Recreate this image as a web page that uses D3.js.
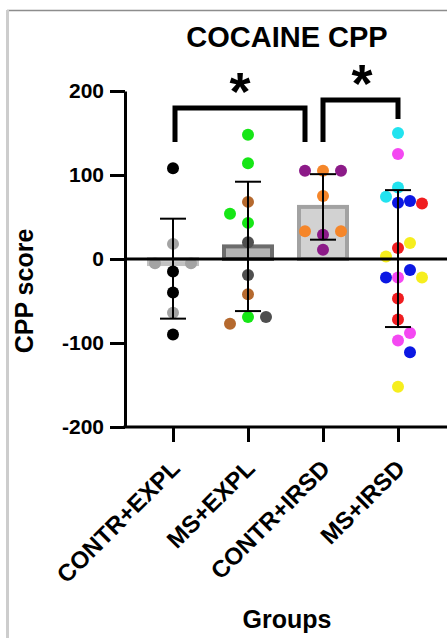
<!DOCTYPE html>
<html>
<head>
<meta charset="utf-8">
<script src="https://cdn.jsdelivr.net/npm/d3@7"></script>
<style>
  html, body { margin: 0; padding: 0; background: #fff; }
  svg { display: block; font-family: Arial, "Liberation Sans", Helvetica, sans-serif; }
</style>
</head>
<body>
<svg width="447" height="638"></svg>
<script>
// groups and summary values (mean, SD range)
var groups = ["CONTR+EXPL", "MS+EXPL", "CONTR+IRSD", "MS+IRSD"];
var means = [-6, 15, 62, 0];
var sdLow = [-71, -62, 23, -81];
var sdHigh = [48, 92, 101, 82];
var yTicks = [-200, -100, 0, 100, 200];

// individual animals, in placement order; subgroup keys decide the colour
var contrExplValues = [108, 18, -15, -5, -5, -40, -64, -90];
var contrExplKeys = ["c1", "c2", "c1", "c2", "c2", "c1", "c2", "c1"];
var msExplValues = [148, 114, 68, 43, 54, 20, -19, -42, -69, -77, -69];
var msExplKeys = ["m1", "m1", "m2", "m1", "m1", "m3", "m3", "m2", "m1", "m2", "m3"];
var contrIrsdValues = [105, 105, 105, 75, 29, 33, 33, 11];
var contrIrsdKeys = ["i2", "i1", "i1", "i2", "i1", "i2", "i2", "i1"];
var msIrsdValues = [150, 125, 85, 67, 69, 74, 66, 13, 19, 3, -22, -13, -22, -22, -47, -72, -88, -97, -111, -152];
var msIrsdKeys = ["s1", "s2", "s1", "s3", "s3", "s1", "s4", "s4", "s5", "s5", "s2", "s3", "s3", "s5", "s4", "s4", "s2", "s2", "s3", "s5"];

var subjectKeys = ["c1", "c2", "m1", "m2", "m3", "i1", "i2", "s1", "s2", "s3", "s4", "s5"];
var subjectColors = ["#000000", "#a3a3a3", "#16e616", "#b5692e", "#4f4f4f", "#8c1a88", "#f5862a",
                     "#22e3ef", "#f448f2", "#0b17e3", "#f01d20", "#f6ee1e"];

var svg = d3.select("svg");

const x = d3.scalePoint().domain(groups).range([173, 398]);
const y = d3.scaleLinear().domain([-200, 200]).range([427, 91]);
var color = d3.scaleOrdinal().domain(subjectKeys).range(subjectColors);

var r = 6;
var barW = 48;
var capW = 26;
var barStyle = [
  {fill: "#cbcbcb", stroke: "#c2c2c2"},
  {fill: "#b3b3b3", stroke: "#6c6c6c"},
  {fill: "#d2d2d2", stroke: "#a2a2a2"},
  {fill: "#d2d2d2", stroke: "#a2a2a2"}
];

// frame of the original screenshot
svg.append("line").attr("x1", 7).attr("x2", 447).attr("y1", 10.5).attr("y2", 10.5)
  .style("stroke", "#8d8d8d").style("stroke-width", 1.5);
svg.append("line").attr("x1", 7.5).attr("x2", 7.5).attr("y1", 10).attr("y2", 638)
  .style("stroke", "#cdcdcd").style("stroke-width", 3);

// bars (a zero mean draws nothing)
svg.append("g").selectAll("rect")
  .data(groups.filter((d, i) => means[i] !== 0))
  .enter().append("rect")
  .attr("x", (d) => x(d) - barW / 2)
  .attr("width", barW)
  .attr("y", (d) => Math.min(y(0), y(means[groups.indexOf(d)])))
  .attr("height", (d) => Math.abs(y(0) - y(means[groups.indexOf(d)])))
  .style("fill", (d) => barStyle[groups.indexOf(d)].fill)
  .style("stroke", (d) => barStyle[groups.indexOf(d)].stroke)
  .style("stroke-width", 4);

// simple dodge: each point takes the first free horizontal slot next to the group centre
function dodge(values, keys, group, sep, rightFirst) {
  var cx = x(group);
  var placed = [];
  var cand = [0];
  for (var k = 1; k <= 10; k++) {
    if (rightFirst) cand.push(k * 6, -k * 6);
    else cand.push(-k * 6, k * 6);
  }
  return values.map(function(v, i) {
    var py = y(v);
    var off = cand.find(o => placed.every(p => Math.abs(p.y - py) >= 15 || Math.abs(p.x - o) >= sep));
    placed.push({x: off, y: py});
    return {cx: cx + off, cy: py, key: keys[i]};
  });
}

var points = [].concat(
  dodge(contrExplValues, contrExplKeys, groups[0], 18, false),
  dodge(msExplValues, msExplKeys, groups[1], 18, false),
  dodge(contrIrsdValues, contrIrsdKeys, groups[2], 18, false),
  dodge(msIrsdValues, msIrsdKeys, groups[3], 12, true)
);

svg.append("g").selectAll("circle")
  .data(points)
  .enter().append("circle")
  .attr("cx", (d) => d.cx)
  .attr("cy", (d) => d.cy)
  .attr("r", r)
  .attr("fill", (d) => color(d.key));

// zero line
svg.append("line")
  .attr("x1", 125).attr("x2", 447)
  .attr("y1", y(0)).attr("y2", y(0))
  .style("stroke", "#000").style("stroke-width", 3);

// error bars (SD)
const eb = svg.append("g").style("stroke", "#000").style("stroke-width", 2);
eb.selectAll(".v").data(groups).enter().append("line")
  .attr("x1", (d) => x(d)).attr("x2", (d) => x(d))
  .attr("y1", (d, i) => y(sdHigh[i])).attr("y2", (d, i) => y(sdLow[i]));
eb.selectAll(".hi").data(groups).enter().append("line")
  .attr("x1", (d) => x(d) - capW / 2).attr("x2", (d) => x(d) + capW / 2)
  .attr("y1", (d, i) => y(sdHigh[i])).attr("y2", (d, i) => y(sdHigh[i]));
eb.selectAll(".lo").data(groups).enter().append("line")
  .attr("x1", (d) => x(d) - capW / 2).attr("x2", (d) => x(d) + capW / 2)
  .attr("y1", (d, i) => y(sdLow[i])).attr("y2", (d, i) => y(sdLow[i]));

// axes
const yAxis = svg.append("g")
  .attr("transform", "translate(125,0)")
  .call(d3.axisLeft(y).tickValues(yTicks).tickFormat((d) => String(d))
    .tickSize(15).tickSizeOuter(0).tickPadding(6));
yAxis.select(".domain").style("stroke-width", 3);
yAxis.selectAll(".tick line").style("stroke-width", 3);
yAxis.selectAll("text")
  .style("font-size", "21px").style("font-weight", "bold").attr("fill", "#000");

const xAxis = svg.append("g")
  .attr("transform", "translate(0,427)")
  .call(d3.axisBottom(x).tickSize(15).tickSizeOuter(0));
xAxis.select(".domain").remove();
xAxis.selectAll(".tick line").style("stroke-width", 3);
xAxis.selectAll("text")
  .attr("y", 0).attr("dy", "0.35em")
  .attr("transform", "translate(2,37) rotate(-45)")
  .style("text-anchor", "end")
  .style("font-size", "24px").style("font-weight", "bold").attr("fill", "#000");
svg.append("line")
  .attr("x1", 123.5).attr("x2", 447)
  .attr("y1", 427).attr("y2", 427)
  .style("stroke", "#000").style("stroke-width", 3);

// significance brackets
function bracket(xa, xb, top, ya, yb) {
  svg.append("path")
    .attr("d", "M" + xa + "," + ya + "V" + top + "H" + xb + "V" + yb)
    .style("fill", "none").style("stroke", "#000").style("stroke-width", 5);
}
bracket(x(groups[0]) + 2, x(groups[2]) - 18, 108, 142, 142);
bracket(x(groups[2]), x(groups[3]), 100, 142, 119);

svg.append("text").attr("x", 240).attr("y", 110)
  .attr("text-anchor", "middle")
  .style("font-size", "54px").style("font-weight", "bold").text("*");
svg.append("text").attr("x", 362).attr("y", 102)
  .attr("text-anchor", "middle")
  .style("font-size", "54px").style("font-weight", "bold").text("*");

// titles
svg.append("text").attr("x", 287).attr("y", 47)
  .attr("text-anchor", "middle")
  .style("font-size", "29px").style("font-weight", "bold").text("COCAINE CPP");

svg.append("text")
  .attr("transform", "translate(33,291) rotate(-90)")
  .attr("text-anchor", "middle")
  .style("font-size", "25px").style("font-weight", "bold").text("CPP score");

svg.append("text").attr("x", 287).attr("y", 628)
  .attr("text-anchor", "middle")
  .style("font-size", "25px").style("font-weight", "bold").text("Groups");
</script>
</body>
</html>
